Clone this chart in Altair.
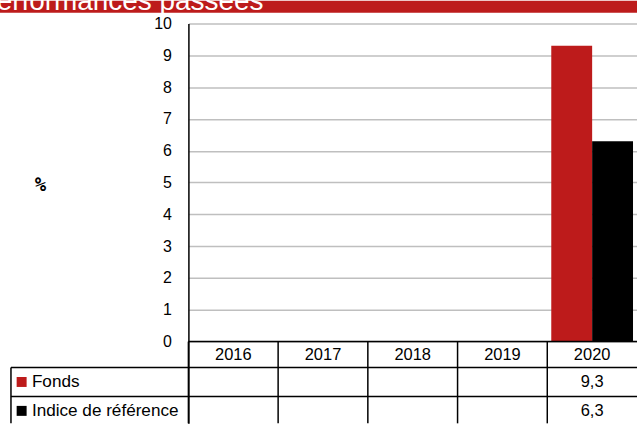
import altair as alt
import pandas as pd

# ---- data ----
years = ["2016", "2017", "2018", "2019", "2020"]
series = ["Fonds", "Indice de référence"]
fonds = [None, None, None, None, 9.3]
indice = [None, None, None, None, 6.3]
colors = ["#BD1B1B", "#000000"]
title_text = "Performances passées"
y_ticks = list(range(11))

rows = []
for yr, f, i in zip(years, fonds, indice):
    rows.append({"year": yr, "series": series[0], "value": f})
    rows.append({"year": yr, "series": series[1], "value": i})
df = pd.DataFrame(rows)
df_vals = df.dropna().reset_index(drop=True)

# ---- layout ----
LEFT, TOP = 189, 23
W, H = 450, 401
PX = 31.9  # pixels per unit
ZERO_PX = 342  # absolute pixel of y=0


def v(p):
    return (ZERO_PX - p) / PX


ymin = v(TOP + H)
FONT = "Liberation Sans"
RED = colors[0]

yscale = alt.Scale(domain=[ymin, 10], nice=False, zero=False)
xscale = alt.Scale(domain=years, paddingInner=0, paddingOuter=0)
cscale = alt.Scale(domain=series, range=colors)

row_expr = f"datum.series === '{series[0]}' ? {v(382.5)} : {v(411.5)}"

bars = alt.Chart(df_vals).mark_bar().encode(
    x=alt.X("year:N", scale=xscale, axis=None),
    xOffset=alt.XOffset("series:N", scale=alt.Scale(domain=series, paddingInner=0, paddingOuter=0.0976)),
    y=alt.Y(
        "value:Q",
        scale=yscale,
        stack=None,
        axis=alt.Axis(
            values=y_ticks, format="d", grid=True, gridColor="#BFBFBF", gridWidth=1.5,
            domain=True, domainColor="black", domainWidth=1.5, ticks=False,
            labelPadding=17, labelFontSize=16, labelFont=FONT, labelColor="black",
            title="%", titleAngle=0, titleX=-149, titleY=161, titleAlign="center",
            titleBaseline="middle", titleFont="DejaVu Sans Mono", titleFontWeight="bold",
            titleFontSize=19, titleColor="black",
        ),
    ),
    y2=alt.Y2Datum(0),
    color=alt.Color("series:N", scale=cscale, legend=None),
)

zero_line = alt.Chart(pd.DataFrame({"v": [0]})).mark_rule(color="black", strokeWidth=1.5).encode(
    y=alt.Y("v:Q", scale=yscale), x=alt.value(0), x2=alt.value(W)
)

hlines = alt.Chart(pd.DataFrame({"v": [v(368), v(397)]})).mark_rule(color="black", strokeWidth=1.5).encode(
    y=alt.Y("v:Q", scale=yscale), x=alt.value(11 - LEFT), x2=alt.value(W)
)

left_line = alt.Chart(pd.DataFrame({"v": [v(368)], "v2": [ymin]})).mark_rule(color="black", strokeWidth=1.5).encode(
    y=alt.Y("v:Q", scale=yscale), y2="v2:Q", x=alt.value(11 - LEFT)
)

year_df = pd.DataFrame({"year": years})
vlines = alt.Chart(year_df).mark_rule(color="black", strokeWidth=1.5).encode(
    x=alt.X("year:N", scale=xscale, bandPosition=0, axis=None),
    y=alt.YDatum(0, scale=yscale),
    y2=alt.Y2Datum(ymin),
)

header = alt.Chart(year_df).mark_text(font=FONT, fontSize=16.5, color="black", baseline="middle").encode(
    x=alt.X("year:N", scale=xscale, axis=None),
    y=alt.YDatum(v(355.5), scale=yscale),
    text="year:N",
)

values_txt = alt.Chart(df_vals).transform_calculate(
    ry=row_expr,
    label="replace(format(datum.value, '.1f'), '.', ',')",
).mark_text(font=FONT, fontSize=16.5, color="black", baseline="middle").encode(
    x=alt.X("year:N", scale=xscale, axis=None),
    y=alt.Y("ry:Q", scale=yscale),
    text="label:N",
)

ser_df = pd.DataFrame({"series": series})
labels = alt.Chart(ser_df).transform_calculate(ry=row_expr).mark_text(
    font=FONT, fontSize=17.2, color="black", baseline="middle", align="left"
).encode(
    x=alt.value(32 - LEFT),
    y=alt.Y("ry:Q", scale=yscale),
    text="series:N",
)

squares = alt.Chart(ser_df).transform_calculate(ry=row_expr).mark_square(size=100, opacity=1).encode(
    x=alt.value(21.7 - LEFT),
    y=alt.Y("ry:Q", scale=yscale),
    color=alt.Color("series:N", scale=cscale, legend=None),
)

title_df = pd.DataFrame({"t": [title_text]})
banner = alt.Chart(title_df).mark_rect(color=RED).encode(
    x=alt.value(-LEFT), x2=alt.value(W), y=alt.value(-TOP), y2=alt.value(12 - TOP)
)
title = alt.Chart(title_df).mark_text(
    font=FONT, fontSize=28, color="white", align="left", baseline="alphabetic"
).encode(x=alt.value(-22 - LEFT), y=alt.value(9 - TOP), text="t:N")

chart = alt.layer(
    bars, zero_line, hlines, left_line, vlines, header, values_txt, labels, squares, banner, title
).properties(
    width=W, height=H,
    autosize=alt.AutoSizeParams(type="none"),
    padding={"left": LEFT, "top": TOP, "right": 0, "bottom": 0},
    background="white",
).configure_view(stroke=None)

chart.save("out.html", embed_options={"renderer": "svg", "actions": False})
